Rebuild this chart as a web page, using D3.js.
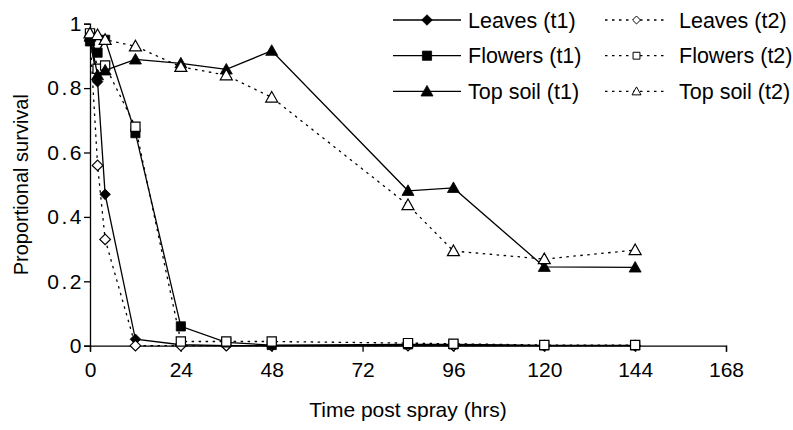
<!DOCTYPE html>
<html>
<head>
<meta charset="utf-8">
<script src="https://cdn.jsdelivr.net/npm/d3@7"></script>
<style>
    body { margin: 0; background: #FFFFFF; }
    text { font-family: "Liberation Sans", Arial, sans-serif; fill: #000000; }
</style>
</head>
<body>
<div id="chart"></div>
<script>
// time points (hrs) shared by all series
const hours = [0, 2, 4, 12, 24, 36, 48, 84, 96, 120, 144];

const leavesT1  = [0.95, 0.82, 0.47, 0.02, 0.003, 0, 0, 0, 0, 0, 0];
const leavesT2  = [0.96, 0.56, 0.33, 0, 0, 0, 0, 0, 0, 0, 0];
const flowersT1 = [0.945, 0.91, 0.95, 0.66, 0.06, 0.01, 0.002, 0.004, 0.004, 0.001, 0.001];
const flowersT2 = [0.97, 0.86, 0.87, 0.68, 0.013, 0.013, 0.013, 0.008, 0.006, 0.002, 0.002];
const topSoilT1 = [0.96, 0.84, 0.855, 0.889, 0.877, 0.858, 0.916, 0.481, 0.49, 0.245, 0.243];
const topSoilT2 = [0.97, 0.965, 0.95, 0.93, 0.866, 0.84, 0.771, 0.437, 0.294, 0.269, 0.297];

const xTicks = [0, 24, 48, 72, 96, 120, 144, 168];
const yTicks = [0, 0.2, 0.4, 0.6, 0.8, 1];

const seriesNames = ["Leaves (t1)", "Leaves (t2)", "Flowers (t1)", "Flowers (t2)", "Top soil (t1)", "Top soil (t2)"];

class ChartClass {
    constructor(selector) {
        this.selector = selector
        this.width = 793
        this.height = 430
        this.margin = {top: 23.7, right: 67, bottom: 84.3, left: 90}
    }

    draw() {
        this.createSVG();

        this.x = d3.scaleLinear()
            .domain([0, 168])
            .range([this.margin.left, this.width - this.margin.right]);
        this.y = d3.scaleLinear()
            .domain([0, 1])
            .range([this.height - this.margin.bottom, this.margin.top]);

        this.drawAxes();

        let series = [
            {name: seriesNames[0], values: leavesT1,  shape: "diamond",  open: false},
            {name: seriesNames[1], values: leavesT2,  shape: "diamond",  open: true},
            {name: seriesNames[2], values: flowersT1, shape: "square",   open: false},
            {name: seriesNames[3], values: flowersT2, shape: "square",   open: true},
            {name: seriesNames[4], values: topSoilT1, shape: "triangle", open: false},
            {name: seriesNames[5], values: topSoilT2, shape: "triangle", open: true}
        ];

        series.forEach(s => this.drawSeries(s));
        this.drawLegend(series);
    }

    createSVG() {
        this.svg = d3.select(this.selector)
            .append("svg")
            .attr("width", this.width)
            .attr("height", this.height);
    }

    markerPath(shape, k) {
        if (shape === "diamond") return `M0,${-5.3*k}L${5.3*k},0L0,${5.3*k}L${-5.3*k},0Z`;
        if (shape === "square") return `M${-4.6*k},${-4.6*k}H${4.6*k}V${4.6*k}H${-4.6*k}Z`;
        return `M0,${-6*k}L${6*k},${4.6*k}L${-6*k},${4.6*k}Z`;
    }

    drawAxes() {
        let xAxis = d3.axisBottom(this.x)
            .tickValues(xTicks)
            .tickSize(6)
            .tickPadding(10)
            .tickFormat(d3.format("d"));

        let yAxis = d3.axisLeft(this.y)
            .tickValues(yTicks)
            .tickSize(6)
            .tickPadding(0)
            .tickFormat(d => d === 0 || d === 1 ? d : d3.format(".1f")(d));

        let gx = this.svg.append("g")
            .attr("transform", `translate(0,${this.y(0)})`)
            .call(xAxis);
        let gy = this.svg.append("g")
            .attr("transform", `translate(${this.x(0)},0)`)
            .call(yAxis);

        [gx, gy].forEach(g => {
            g.selectAll("path, line").attr("stroke", "#000000").attr("stroke-width", 1.3);
            g.selectAll("text")
                .attr("fill", "#000000")
                .style("font-family", "'Liberation Sans', Arial, sans-serif")
                .style("font-size", "21px");
        });
        // y labels in the original are set wider
        gy.selectAll("text").style("letter-spacing", "2.5px");

        this.svg.append("text")
            .attr("x", (this.x(0) + this.x(168)) / 2)
            .attr("y", 417)
            .attr("text-anchor", "middle")
            .style("font-size", "21px")
            .text("Time post spray (hrs)");

        this.svg.append("text")
            .attr("transform", `translate(28,${(this.y(0) + this.y(1)) / 2}) rotate(-90)`)
            .attr("text-anchor", "middle")
            .style("font-size", "20px")
            .text("Proportional survival");
    }

    drawSeries(s) {
        let points = hours.map((h, i) => [h, s.values[i]]);

        let line = d3.line()
            .x(d => this.x(d[0]))
            .y(d => this.y(d[1]));

        this.svg.append("path")
            .datum(points)
            .attr("d", line)
            .attr("fill", "none")
            .attr("stroke", "#000000")
            .attr("stroke-width", 1.3)
            .attr("stroke-dasharray", s.open ? "2.5,4.5" : null);

        this.svg.append("g")
            .selectAll("path")
            .data(points)
            .enter()
            .append("path")
            .attr("transform", d => `translate(${this.x(d[0])},${this.y(d[1])})`)
            .attr("d", this.markerPath(s.shape, 1))
            .attr("fill", s.open ? "#FFFFFF" : "#000000")
            .attr("stroke", "#000000")
            .attr("stroke-width", s.open ? 1.2 : 0.8);
    }

    drawLegend(series) {
        let rowY = [20, 55.7, 91.4];
        let cols = [
            {x1: 393, x2: 461, text: 468},
            {x1: 605, x2: 668, text: 679}
        ];

        series.forEach((s, i) => {
            let c = cols[i % 2];
            let y = rowY[Math.floor(i / 2)];
            let g = this.svg.append("g").attr("class", "legend");

            g.append("line")
                .attr("x1", c.x1).attr("x2", c.x2)
                .attr("y1", y).attr("y2", y)
                .attr("stroke", "#000000")
                .attr("stroke-width", 1.3)
                .attr("stroke-dasharray", s.open ? "2.5,4.5" : null);

            g.append("path")
                .attr("transform", `translate(${(c.x1 + c.x2) / 2},${y})`)
                .attr("d", this.markerPath(s.shape, s.open ? 0.75 : 1))
                .attr("fill", s.open ? "#FFFFFF" : "#000000")
                .attr("stroke", "#000000")
                .attr("stroke-width", s.open ? 1 : 0.8);

            g.append("text")
                .attr("x", c.text)
                .attr("y", y)
                .attr("dy", "0.35em")
                .style("font-size", "21.5px")
                .text(s.name);
        });
    }
}

let chart = new ChartClass("#chart");
chart.draw();
</script>
</body>
</html>
